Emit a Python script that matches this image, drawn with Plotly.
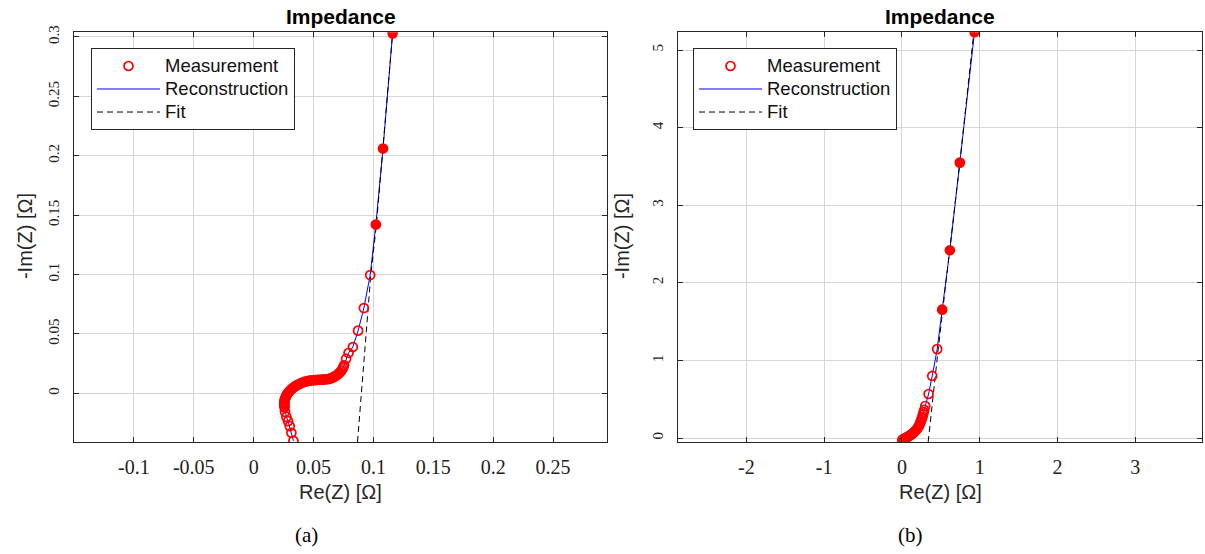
import plotly.graph_objects as go

W, H = 1205, 554

# ---------------- data: panel (a) ----------------
re_a = [0.0332, 0.0315, 0.0301, 0.0287, 0.0273, 0.0262,
        0.0258, 0.0256, 0.0255, 0.0255, 0.0256, 0.0258, 0.0260, 0.0264, 0.0268, 0.0273,
        0.0279, 0.0286, 0.0294, 0.0302, 0.0311, 0.0321, 0.0332, 0.0343, 0.0355, 0.0367,
        0.0380, 0.0393, 0.0407, 0.0421, 0.0436, 0.0451, 0.0467, 0.0483, 0.0499, 0.0515,
        0.0531, 0.0547, 0.0563, 0.0579, 0.0595, 0.0611, 0.0627, 0.0642, 0.0657, 0.0671,
        0.0685, 0.0698, 0.0710, 0.0721, 0.0731, 0.0740, 0.0748, 0.0755,
        0.0772, 0.0792, 0.0828, 0.0872, 0.0920, 0.0973, 0.1020, 0.1080, 0.1160]
im_a = [-0.0401, -0.0333, -0.0277, -0.0235, -0.0199, -0.0157,
        -0.0120, -0.0108, -0.0097, -0.0086, -0.0075, -0.0064, -0.0053, -0.0042, -0.0031, -0.0020,
        -0.0009, 0.0001, 0.0011, 0.0021, 0.0030, 0.0039, 0.0048, 0.0056, 0.0064, 0.0071,
        0.0078, 0.0084, 0.0090, 0.0095, 0.0099, 0.0103, 0.0106, 0.0108, 0.0110, 0.0111,
        0.0112, 0.0113, 0.0114, 0.0115, 0.0116, 0.0118, 0.0121, 0.0125, 0.0131, 0.0138,
        0.0146, 0.0155, 0.0165, 0.0176, 0.0188, 0.0202, 0.0218, 0.0235,
        0.0291, 0.0339, 0.0389, 0.0527, 0.0717, 0.0995, 0.1420, 0.2060, 0.3030]
filled_a = [False] * 60 + [True, True, True]

fit_re_a = [0.0867, 0.0930, 0.0978, 0.1025, 0.1080, 0.1160]
fit_im_a = [-0.0410, 0.0400, 0.0995, 0.1420, 0.2060, 0.3030]

# ---------------- data: panel (b) ----------------
re_b = [0.006, 0.010, 0.016, 0.024, 0.033, 0.044, 0.056, 0.069, 0.083, 0.097, 0.112,
        0.127, 0.142, 0.157, 0.171, 0.185, 0.198, 0.210, 0.221, 0.231, 0.240, 0.248,
        0.256, 0.264, 0.272, 0.280, 0.287,
        0.300, 0.343, 0.390, 0.454, 0.518, 0.617, 0.745, 0.934]
im_b = [-0.027, -0.023, -0.018, -0.012, -0.006, 0.000, 0.006, 0.013, 0.021, 0.030, 0.040,
        0.051, 0.063, 0.076, 0.090, 0.106, 0.123, 0.142, 0.162, 0.183, 0.205, 0.228,
        0.252, 0.278, 0.305, 0.335, 0.362,
        0.413, 0.568, 0.800, 1.146, 1.654, 2.420, 3.549, 5.230]
filled_b = [False] * 31 + [True, True, True, True]

fit_re_b = [0.338, 0.467, 0.745, 0.925]
fit_im_b = [-0.050, 1.146, 3.549, 5.230]

# tick labels
xt_a = [-0.1, -0.05, 0, 0.05, 0.1, 0.15, 0.2, 0.25]
xl_a = ["-0.1", "-0.05", "0", "0.05", "0.1", "0.15", "0.2", "0.25"]
yt_a = [0, 0.05, 0.1, 0.15, 0.2, 0.25, 0.3]
yl_a = ["0", "0.05", "0.1", "0.15", "0.2", "0.25", "0.3"]
xt_b = [-2, -1, 0, 1, 2, 3]
xl_b = ["-2", "-1", "0", "1", "2", "3"]
yt_b = [0, 1, 2, 3, 4, 5]
yl_b = ["0", "1", "2", "3", "4", "5"]

SANS = "Liberation Sans, Arial, sans-serif"
SERIF = "Liberation Serif, Times New Roman, serif"
AX = "#262626"
GRID = "#d6d6d6"


def px_x(p):
    return p / W


def px_y(p):
    return 1 - p / H


def leg_name(s):
    return "<span style='font-size:18.5px'>" + s + "</span>"


fig = go.Figure()


def add_panel(xa, ya, legend, re, im, filled, fre, fim):
    fig.add_trace(go.Scatter(x=re, y=im, mode="lines", name=leg_name("Reconstruction"),
                             line=dict(color="#0000ff", width=1),
                             xaxis=xa, yaxis=ya, legend=legend, legendrank=2))
    fig.add_trace(go.Scatter(x=fre, y=fim, mode="lines", name=leg_name("Fit"),
                             line=dict(color="black", width=1, dash="6px,4px"),
                             xaxis=xa, yaxis=ya, legend=legend, legendrank=3))
    fig.add_trace(go.Scatter(x=re, y=im, mode="markers", name=leg_name("Measurement"),
                             marker=dict(symbol=["circle" if f else "circle-open" for f in filled],
                                         size=9, color="#ff0000",
                                         line=dict(color="#ff0000", width=1.7)),
                             xaxis=xa, yaxis=ya, legend=legend, legendrank=1))


add_panel("x", "y", "legend", re_a, im_a, filled_a, fit_re_a, fit_im_a)
add_panel("x2", "y2", "legend2", re_b, im_b, filled_b, fit_re_b, fit_im_b)

common_x = dict(showline=True, linecolor=AX, linewidth=1, mirror="ticks",
                ticks="inside", ticklen=5, tickcolor=AX, showgrid=True,
                gridcolor=GRID, gridwidth=1, zeroline=False,
                tickfont=dict(family=SERIF, size=20, color="#222"),
                ticklabelstandoff=7, tickmode="array")
common_y = dict(showline=True, linecolor=AX, linewidth=1, mirror="ticks",
                ticks="inside", ticklen=5, tickcolor=AX, showgrid=True,
                gridcolor=GRID, gridwidth=1, zeroline=False,
                tickfont=dict(family=SERIF, size=15, color="#222"),
                tickangle=-90, ticklabelstandoff=8, tickmode="array")

yb, yt = px_y(440.5), px_y(25.5)
leg_common = dict(xanchor="left", yanchor="top",
                  bgcolor="white", bordercolor=AX, borderwidth=1,
                  font=dict(family=SANS, size=15.4, color="#111"),
                  itemwidth=63, tracegroupgap=0, traceorder="normal")
fig.update_layout(
    width=W, height=H, autosize=False,
    margin=dict(l=0, r=0, t=0, b=0),
    paper_bgcolor="white", plot_bgcolor="white",
    xaxis=dict(domain=[px_x(74), px_x(607)], range=[-0.15, 0.295],
               tickvals=xt_a, ticktext=xl_a, anchor="y", **common_x),
    yaxis=dict(domain=[yb, yt], range=[-0.041, 0.304],
               tickvals=yt_a, ticktext=yl_a, anchor="x", **common_y),
    xaxis2=dict(domain=[px_x(678), px_x(1202)], range=[-2.88, 3.86],
                tickvals=xt_b, ticktext=xl_b, anchor="y2", **common_x),
    yaxis2=dict(domain=[yb, yt], range=[-0.05, 5.23],
                tickvals=yt_b, ticktext=yl_b, anchor="x2", **common_y),
    legend=dict(x=px_x(91), y=px_y(42), **leg_common),
    legend2=dict(x=px_x(693), y=px_y(42), **leg_common),
    showlegend=True,
)

ann = []
for cx, label in [((74 + 607) / 2, "Impedance"), ((678 + 1202) / 2, "Impedance")]:
    ann.append(dict(x=px_x(cx), y=px_y(10), xref="paper", yref="paper",
                    text="<b>" + label + "</b>", showarrow=False,
                    font=dict(family=SANS, size=21, color="black"),
                    xanchor="center", yanchor="middle"))
for cx in [(74 + 607) / 2, (678 + 1202) / 2]:
    ann.append(dict(x=px_x(cx), y=px_y(491), xref="paper", yref="paper",
                    text="Re(Z) [Ω]", showarrow=False,
                    font=dict(family=SANS, size=20, color="#262626"),
                    xanchor="center", yanchor="middle"))
for cx in [25, 622]:
    ann.append(dict(x=px_x(cx), y=px_y(232), xref="paper", yref="paper",
                    text="-Im(Z) [Ω]", showarrow=False, textangle=-90,
                    font=dict(family=SANS, size=20, color="#262626"),
                    xanchor="center", yanchor="middle"))
for cx, cap in [(306, "(a)"), (910, "(b)")]:
    ann.append(dict(x=px_x(cx), y=px_y(534.5), xref="paper", yref="paper",
                    text=cap, showarrow=False,
                    font=dict(family=SERIF, size=21, color="black"),
                    xanchor="center", yanchor="middle"))
fig.update_layout(annotations=ann)

fig.write_html("out.html")
